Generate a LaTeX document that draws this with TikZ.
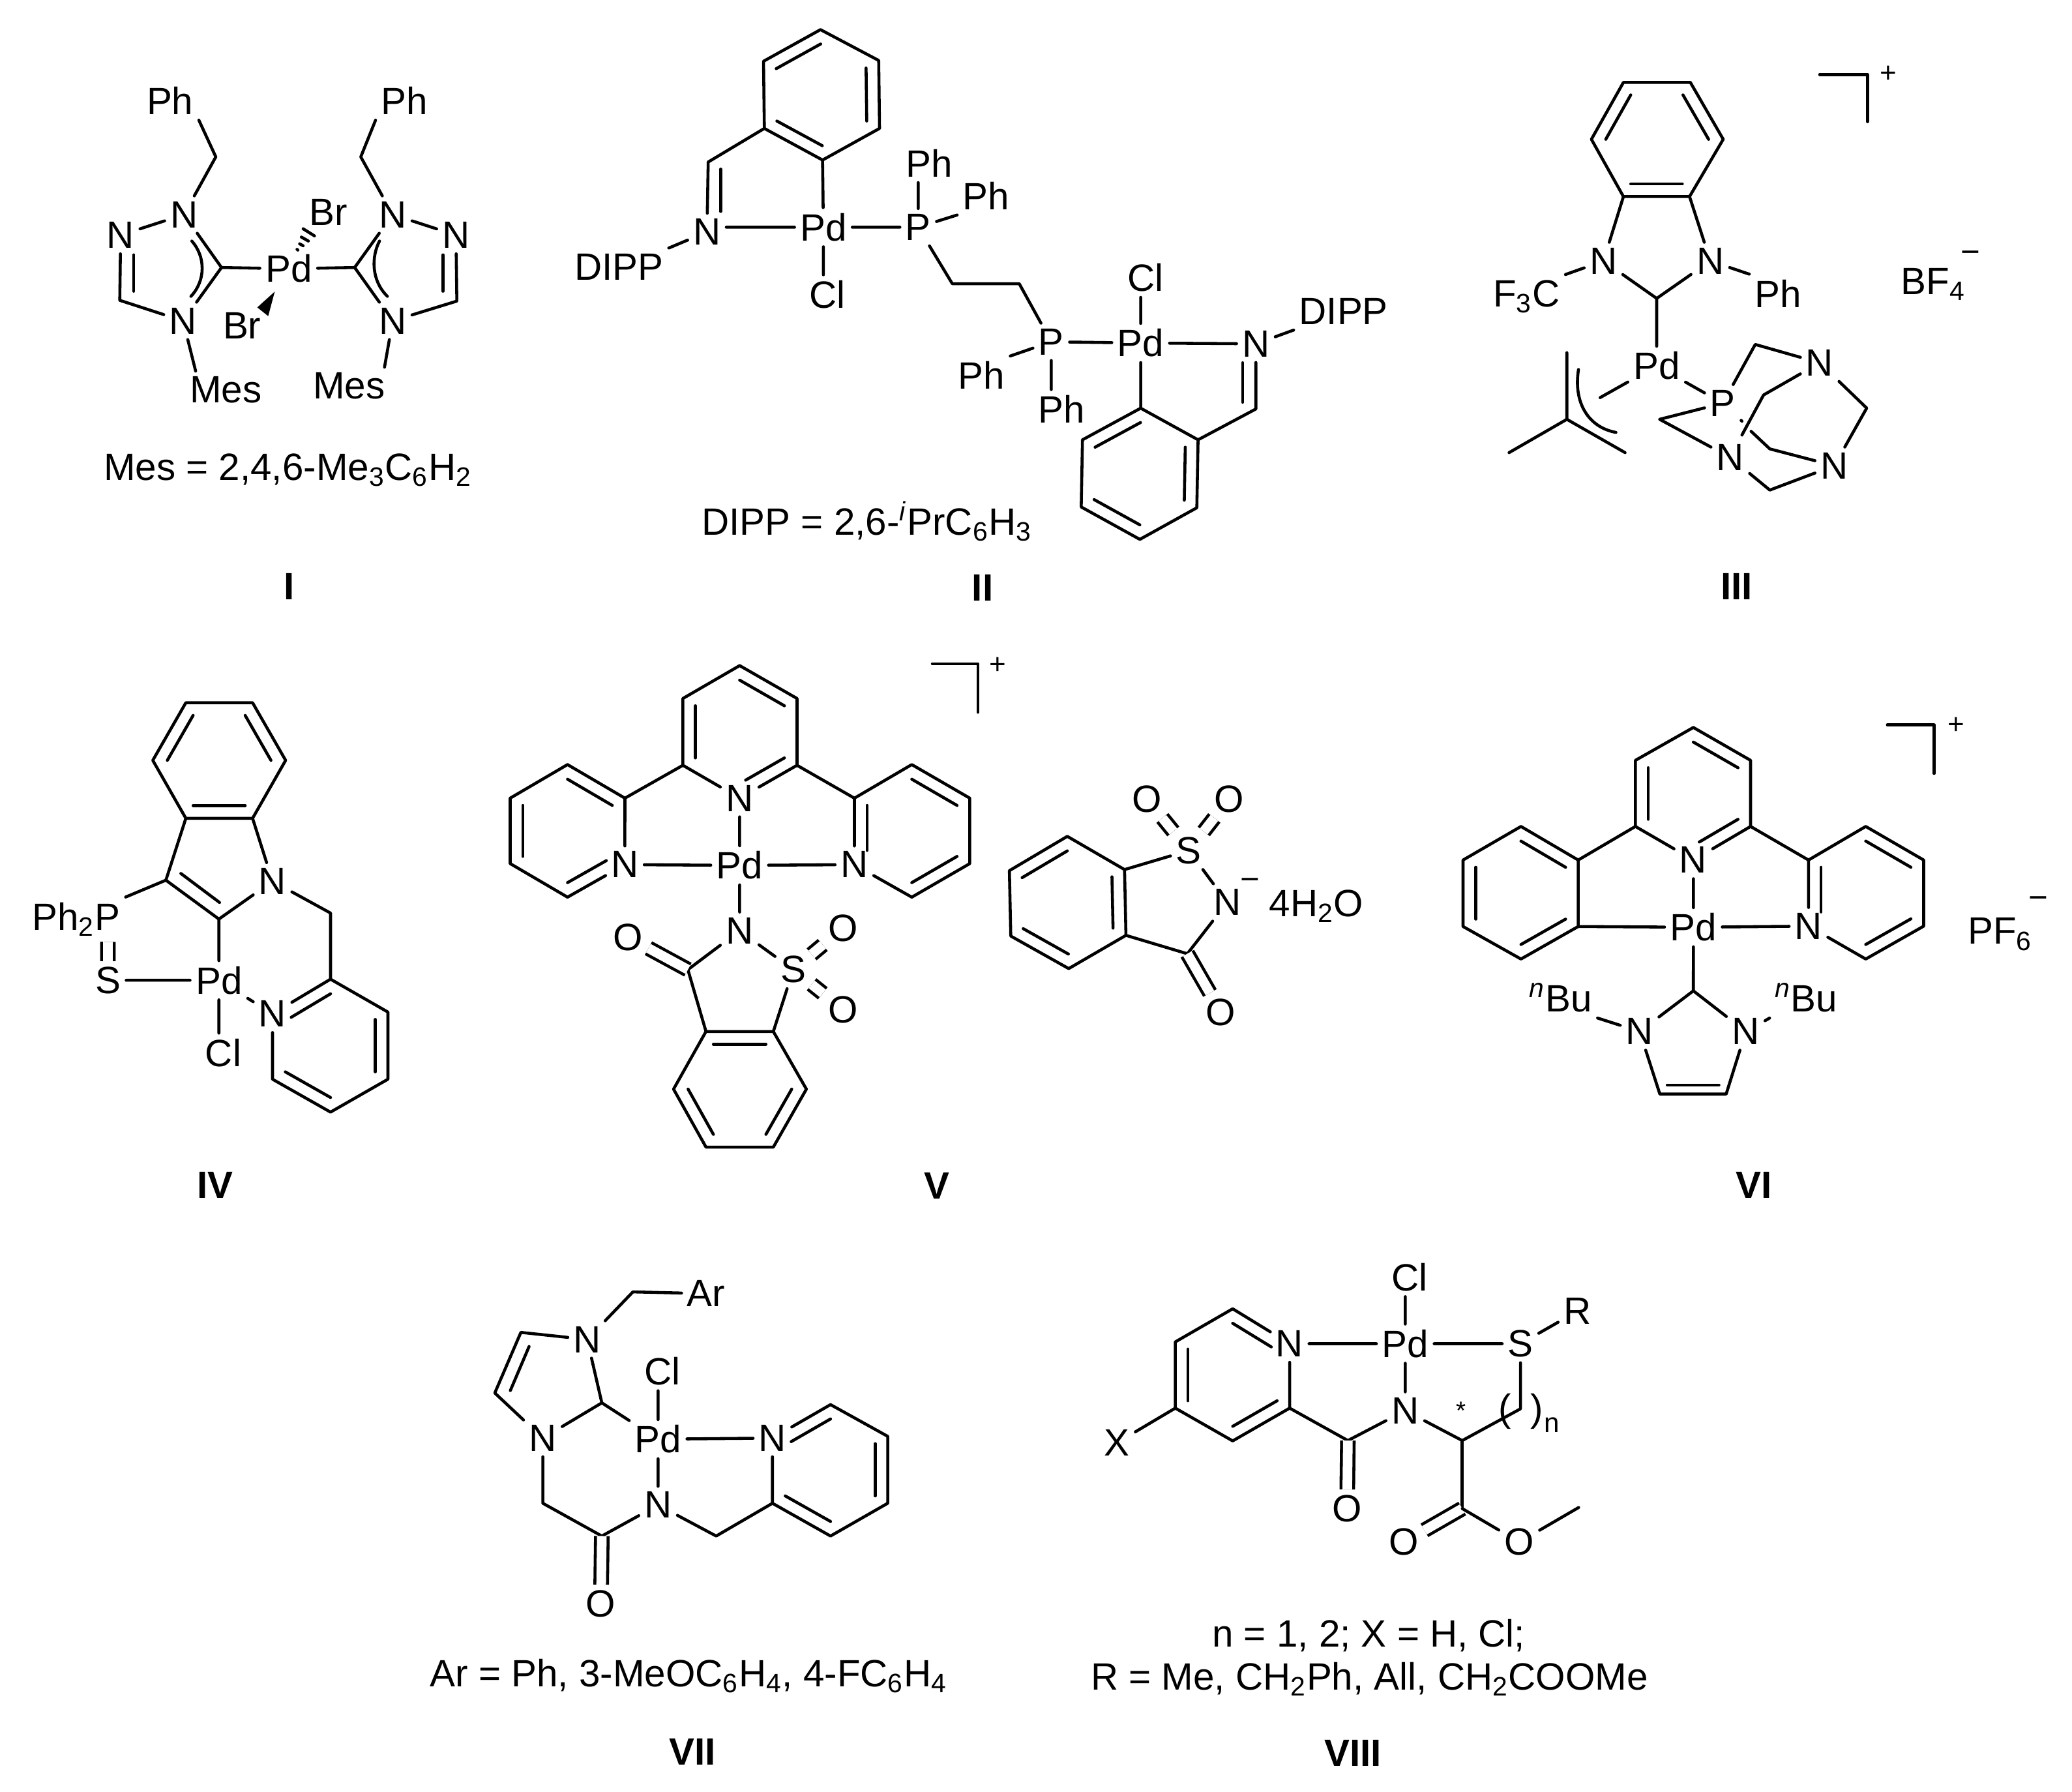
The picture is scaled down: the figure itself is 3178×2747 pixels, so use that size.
\documentclass[tikz,border=0pt]{standalone}
\usepackage{fontspec}
\usepackage{xcolor}
\usetikzlibrary{calc}
\setmainfont{Liberation Sans}

\newcommand{\labelsize}{\fontsize{16.6}{20}\selectfont}
\newcommand{\inbond}[4][]{\draw[#1] ($(#2)!.22!(#4)$) -- ($(#3)!.22!(#4)$);}

\tikzset{
  atom/.style={inner sep=1.8pt, font=\labelsize},
  note/.style={inner sep=0pt, font=\labelsize},
  plus/.style={inner sep=0pt, font=\fontsize{12.5}{14}\selectfont},
  minus/.style={inner sep=0pt, font=\fontsize{14.5}{16}\selectfont},
  molname/.style={inner sep=0pt, font=\labelsize\bfseries},
  dbl/.style={double, double distance=4.2pt, line cap=butt}
}

\begin{document}
\begin{tikzpicture}[x=.1mm, y=-.1mm, line width=1.3pt, line cap=round, line join=round]
  \useasboundingbox (0,0) rectangle (3178,2747);

  % I
  \begin{scope}[shift={(100,0)}, xscale=.6696, yscale=.6059]
    \node[atom] (aPd) at (512,680) {Pd};
    \node[atom] (aPh1) at (240,255) {Ph};
    \node[atom] (aPh2) at (777,255) {Ph};
    \node[atom] (aN1) at (272,543) {N};
    \node[atom] (aN2) at (127,595) {N};
    \node[atom] (aN3) at (270,812) {N};
    \node[atom] (aN4) at (750,543) {N};
    \node[atom] (aN5) at (895,595) {N};
    \node[atom] (aN6) at (750,812) {N};
    \node[atom] (aMes1) at (368,987) {Mes};
    \node[atom] (aMes2) at (650,977) {Mes};
    \node[atom] (aBr1) at (603,537) {Br};
    \node[atom] (aBr2) at (405,825) {Br};
    \coordinate (aC1) at (345,397);
    \coordinate (aC2) at (125,760);
    \coordinate (aC3) at (358,677);
    \coordinate (aC4) at (677,397);
    \coordinate (aC5) at (897,762);
    \coordinate (aC6) at (663,677);
    \coordinate (aD1) at (157,645);
    \coordinate (aD2) at (157,737);
    \coordinate (aD3) at (865,645);
    \coordinate (aD4) at (865,737);

    \draw (aPh1.south east) -- (aC1) -- (aN1);
    \draw (aN1) -- (aN2);
    \draw (aN2) -- (aC2) -- (aN3);
    \draw (aD1) -- (aD2);
    \draw (aN3) -- (aC3) -- (aN1);
    \draw (aC3) -- (aPd);
    \draw (aN3) -- (aMes1.148);
    \draw (290,610) .. controls (322,650) and (322,710) .. (288,750);
    \draw (aPh2.south west) -- (aC4) -- (aN4);
    \draw (aN4) -- (aN5);
    \draw (aN5) -- (aC5) -- (aN6);
    \draw (aD3) -- (aD4);
    \draw (aN6) -- (aC6) -- (aN4);
    \draw (aC6) -- (aPd);
    \draw (aN6) -- (aMes2.28);
    \draw (720,610) .. controls (701,650) and (701,710) .. (738,750);
    \fill (480,738) -- (440,778) -- (465,800) -- cycle;
    \draw (533,633) -- (531,631);
    \draw (545,622) -- (537,617);
    \draw (557,610) -- (541,600);
    \draw (571,597) -- (545,579);

    \node[note] (aNote) at (510,1190) {Mes = 2,4,6-Me\textsubscript{3}C\textsubscript{6}H\textsubscript{2}};
    \node[molname] (aName) at (513,1485) {I};
  \end{scope}

  % II
  \begin{scope}[shift={(1150,0)}, xscale=.6378, yscale=.6059]
    \node[atom] (bPd1) at (177,575) {Pd};
    \node[atom] (bPd2) at (940,868) {Pd};
    \node[atom] (bP1) at (405,575) {P};
    \node[atom] (bP2) at (725,865) {P};
    \node[atom] (bN1) at (-103,587) {N};
    \node[atom] (bN2) at (1217,870) {N};
    \node[atom] (bDipp1) at (-315,675) {DIPP};
    \node[atom] (bDipp2) at (1428,788) {DIPP};
    \node[atom] (bCl1) at (187,745) {Cl};
    \node[atom] (bCl2) at (952,703) {Cl};
    \node[atom] (bPh1) at (432,413) {Ph};
    \node[atom] (bPh2) at (568,495) {Ph};
    \node[atom] (bPh3) at (557,950) {Ph};
    \node[atom] (bPh4) at (750,1035) {Ph};
    \coordinate (bR1) at (170,75);
    \coordinate (bR2) at (310,153);
    \coordinate (bR3) at (312,325);
    \coordinate (bR4) at (175,405);
    \coordinate (bR5) at (35,325);
    \coordinate (bR6) at (33,155);
    \coordinate (bRc) at (172,240);
    \coordinate (bS1) at (940,1033);
    \coordinate (bS2) at (1078,1113);
    \coordinate (bS3) at (1075,1285);
    \coordinate (bS4) at (938,1365);
    \coordinate (bS5) at (797,1283);
    \coordinate (bS6) at (800,1113);
    \coordinate (bSc) at (938,1198);
    \coordinate (bC1) at (-100,410);
    \coordinate (bC2) at (1217,1035);
    \coordinate (bC3) at (487,718);
    \coordinate (bC4) at (648,718);
    \coordinate (bD1) at (-70,428);
    \coordinate (bD2) at (-70,535);
    \coordinate (bD3) at (1185,1018);
    \coordinate (bD4) at (1185,918);

    \draw (bR1) -- (bR2) -- (bR3) -- (bR4) -- (bR5) -- (bR6) -- cycle;
    \inbond{bR6}{bR1}{bRc}
    \inbond{bR2}{bR3}{bRc}
    \inbond{bR4}{bR5}{bRc}
    \draw (bR5) -- (bC1) -- (bN1);
    \draw (bD1) -- (bD2);
    \draw (bN1) -- (bDipp1.north east);
    \draw (bPd1) -- (bPd1 -| bN1.east);
    \draw (bPd1) -- (bR4);
    \draw (bPd1) -- (bPd1 |- bCl1.north);
    \draw (bPd1) -- (bP1);
    \draw (bP1) -- (bP1 |- bPh1.south);
    \draw (bP1) -- (bPh2.south west);
    \draw (bP1) -- (bC3) -- (bC4) -- (bP2);
    \draw (bP2) -- (bPd2);
    \draw (bP2) -- (bPh3.north east);
    \draw (bP2) -- (bPh4.north -| bP2);
    \draw (bPd2) -- (bPd2 |- bCl2.south);
    \draw (bPd2) -- (bN2);
    \draw (bN2) -- (bDipp2.south west);
    \draw (bPd2) -- (bS1);
    \draw (bS1) -- (bS2) -- (bS3) -- (bS4) -- (bS5) -- (bS6) -- cycle;
    \inbond{bS6}{bS1}{bSc}
    \inbond{bS2}{bS3}{bSc}
    \inbond{bS4}{bS5}{bSc}
    \draw (bS2) -- (bC2) -- (bN2);
    \draw (bD3) -- (bD4);

    \node[note] (bNote) at (282,1320) {DIPP = 2,6-\textsuperscript{\textit{i}}PrC\textsubscript{6}H\textsubscript{3}};
    \node[molname] (bName) at (560,1487) {II};
  \end{scope}

  % III
  \begin{scope}[shift={(2150,50)}, xscale=.6378, yscale=.574]
    \node[atom] (cPd) at (613,890) {Pd};
    \node[atom] (cN1) at (485,610) {N};
    \node[atom] (cN2) at (742,610) {N};
    \node[atom] (cP) at (772,990) {P};
    \node[atom] (cN3) at (1005,882) {N};
    \node[atom] (cN4) at (790,1135) {N};
    \node[atom] (cN5) at (1040,1157) {N};
    \node[atom] (cCf) at (300,705) {F\textsubscript{3}C};
    \node[atom] (cPh) at (905,697) {Ph};
    \node[atom] (cBf) at (1278,672) {BF\textsubscript{4}};
    \node[minus] (cMinus) at (1368,600) {−};
    \node[plus] (cPlus) at (1170,112) {+};
    \coordinate (cR1) at (533,133);
    \coordinate (cR2) at (694,133);
    \coordinate (cR3) at (773,285);
    \coordinate (cR4) at (692,438);
    \coordinate (cR5) at (533,438);
    \coordinate (cR6) at (456,285);
    \coordinate (cRc) at (613,285);
    \coordinate (cC1) at (613,710);
    \coordinate (cA1) at (397,855);
    \coordinate (cA2) at (397,1033);
    \coordinate (cA3) at (258,1122);
    \coordinate (cA4) at (537,1122);
    \coordinate (cA5) at (477,975);
    \coordinate (cT1) at (850,833);
    \coordinate (cT2) at (870,968);
    \coordinate (cT3) at (818,1075);
    \coordinate (cT4) at (1118,1003);
    \coordinate (cT5) at (885,1112);
    \coordinate (cT6) at (885,1222);
    \coordinate (cT7) at (620,1033);
    \coordinate (cT8) at (840,1065);
    \coordinate (cT9) at (818,1038);
    \coordinate (cB1) at (1005,112);
    \coordinate (cB2) at (1120,112);
    \coordinate (cB3) at (1120,238);

    \draw (cR1) -- (cR2) -- (cR3) -- (cR4) -- (cR5) -- (cR6) -- cycle;
    \inbond{cR6}{cR1}{cRc}
    \inbond{cR2}{cR3}{cRc}
    \inbond{cR4}{cR5}{cRc}
    \draw (cR5) -- (cN1);
    \draw (cR4) -- (cN2);
    \draw (cN1) -- (cC1) -- (cN2);
    \draw (cC1) -- (cPd);
    \draw (cN1) -- (cCf.north east);
    \draw (cN2) -- (cPh.north west);
    \draw (cPd) -- (cA5);
    \draw (cPd) -- (cP);
    \draw (cA1) -- (cA2) -- (cA3);
    \draw (cA2) -- (cA4);
    \draw (425,900) .. controls (412,990) and (450,1055) .. (515,1068);
    \draw (cP) -- (cT1) -- (cN3);
    \draw (cN3) -- (cT2) -- (cT3);
    \draw (cN3) -- (cT4) -- (cN5);
    \draw (cN5) -- (cT5) -- (cT8);
    \draw (cT9) -- (cP);
    \draw (cN5) -- (cT6) -- (cN4);
    \draw (cN4) -- (cT7) -- (cP);
    \draw (cB1) -- (cB2) -- (cB3);

    \node[molname] (cName) at (805,1480) {III};
  \end{scope}

  % IV and V
  \begin{scope}[shift={(0,980)}, xscale=.9566, yscale=.5421]
    \node[atom] (dPd) at (351,965) {Pd};
    \node[atom] (dN1) at (437,685) {N};
    \node[atom] (dN2) at (437,1060) {N};
    \node[atom] (dS) at (173,965) {S};
    \node[atom] (dCl) at (358,1170) {Cl};
    \node[atom] (dPhp) at (122,793) {Ph\textsubscript{2}P};
    \coordinate (dR1) at (298,180);
    \coordinate (dR2) at (405,180);
    \coordinate (dR3) at (458,343);
    \coordinate (dR4) at (405,507);
    \coordinate (dR5) at (298,507);
    \coordinate (dR6) at (245,343);
    \coordinate (dRc) at (351,343);
    \coordinate (dC1) at (266,682);
    \coordinate (dC2) at (351,792);
    \coordinate (dC3) at (530,775);
    \coordinate (dQ1) at (530,962);
    \coordinate (dQ2) at (622,1055);
    \coordinate (dQ3) at (622,1245);
    \coordinate (dQ4) at (530,1338);
    \coordinate (dQ5) at (437,1245);
    \coordinate (dQc) at (530,1150);
    \coordinate (dI1) at (290,663);
    \coordinate (dI2) at (352,745);

    \draw (dR1) -- (dR2) -- (dR3) -- (dR4) -- (dR5) -- (dR6) -- cycle;
    \inbond{dR6}{dR1}{dRc}
    \inbond{dR2}{dR3}{dRc}
    \inbond{dR4}{dR5}{dRc}
    \draw (dR5) -- (dC1) -- (dC2) -- (dN1);
    \draw (dI1) -- (dI2);
    \draw (dR4) -- (dN1);
    \draw (dN1) -- (dC3) -- (dQ1);
    \draw (dC1) -- (dPhp.north east);
    \draw[dbl] (dS) -- (dS |- dPhp.south);
    \draw (dS) -- (dPd);
    \draw (dC2) -- (dPd);
    \draw (dPd) -- (dPd |- dCl.north);
    \draw (dPd) -- (dN2);
    \draw (dN2) -- (dQ1) -- (dQ2) -- (dQ3) -- (dQ4) -- (dQ5) -- (dN2);
    \inbond[shorten >=3pt]{dQ1}{dN2}{dQc}
    \inbond{dQ2}{dQ3}{dQc}
    \inbond{dQ4}{dQ5}{dQc}

    \node[molname] (dName) at (345,1545) {IV};

    % V
    \node[atom] (ePd) at (1186,640) {Pd};
    \node[atom] (eN1) at (1186,450) {N};
    \node[atom] (eN2) at (1002,638) {N};
    \node[atom] (eN3) at (1370,638) {N};
    \node[atom] (eN4) at (1186,825) {N};
    \node[atom] (eS) at (1272,935) {S};
    \node[atom] (eO1) at (1007,843) {O};
    \node[atom] (eO2) at (1352,817) {O};
    \node[atom] (eO3) at (1352,1048) {O};
    \node[plus] (ePlus) at (1600,75) {+};
    \coordinate (eR1) at (1186,75);
    \coordinate (eR2) at (1278,168);
    \coordinate (eR3) at (1278,357);
    \coordinate (eR5) at (1095,357);
    \coordinate (eR6) at (1095,168);
    \coordinate (eRc) at (1186,262);
    \coordinate (eL1) at (910,355);
    \coordinate (eL2) at (1002,450);
    \coordinate (eL4) at (910,730);
    \coordinate (eL5) at (818,635);
    \coordinate (eL6) at (818,450);
    \coordinate (eLc) at (910,543);
    \coordinate (eT1) at (1370,450);
    \coordinate (eT2) at (1462,355);
    \coordinate (eT3) at (1555,450);
    \coordinate (eT4) at (1555,635);
    \coordinate (eT5) at (1462,730);
    \coordinate (eTc) at (1462,543);
    \coordinate (eC1) at (1103,935);
    \coordinate (eU1) at (1132,1110);
    \coordinate (eU2) at (1240,1110);
    \coordinate (eU3) at (1293,1273);
    \coordinate (eU4) at (1240,1437);
    \coordinate (eU5) at (1132,1437);
    \coordinate (eU6) at (1080,1273);
    \coordinate (eUc) at (1186,1273);
    \coordinate (eB1) at (1495,70);
    \coordinate (eB2) at (1568,70);
    \coordinate (eB3) at (1568,207);

    \draw (eR1) -- (eR2) -- (eR3) -- (eN1) -- (eR5) -- (eR6) -- (eR1);
    \inbond{eR1}{eR2}{eRc}
    \inbond{eR5}{eR6}{eRc}
    \inbond[shorten <=3pt]{eN1}{eR3}{eRc}
    \draw (eL1) -- (eL2) -- (eN2) -- (eL4) -- (eL5) -- (eL6) -- (eL1);
    \inbond{eL1}{eL2}{eLc}
    \inbond{eL5}{eL6}{eLc}
    \inbond[shorten >=3pt]{eL4}{eN2}{eLc}
    \draw (eT1) -- (eT2) -- (eT3) -- (eT4) -- (eT5) -- (eN3) -- (eT1);
    \inbond{eT2}{eT3}{eTc}
    \inbond{eT4}{eT5}{eTc}
    \inbond[shorten >=3pt]{eT1}{eN3}{eTc}
    \draw (eR5) -- (eL2);
    \draw (eR3) -- (eT1);
    \draw (eN2) -- (ePd);
    \draw (ePd) -- (eN3);
    \draw (eN1) -- (ePd);
    \draw (ePd) -- (eN4);
    \draw (eN4) -- (eC1) -- (eU1);
    \draw (eN4) -- (eS);
    \draw (eS) -- (eU2);
    \draw[dbl] (eC1) -- (eO1);
    \draw[dbl] (eS) -- (eO2);
    \draw[dbl] (eS) -- (eO3);
    \draw (eU1) -- (eU2) -- (eU3) -- (eU4) -- (eU5) -- (eU6) -- cycle;
    \inbond{eU1}{eU2}{eUc}
    \inbond{eU3}{eU4}{eUc}
    \inbond{eU5}{eU6}{eUc}
    \draw (eB1) -- (eB2) -- (eB3);

    \node[molname] (eName) at (1502,1546) {V};
  \end{scope}

  % counter ion of V, and VI
  \begin{scope}[shift={(1500,980)}, xscale=1.0702, yscale=.5421]
    \node[atom] (fS) at (302,598) {S};
    \node[atom] (fN) at (357,745) {N};
    \node[atom] (fO1) at (242,452) {O};
    \node[atom] (fO2) at (360,452) {O};
    \node[atom] (fO3) at (348,1055) {O};
    \node[minus] (fMinus) at (390,693) {−};
    \node[note] (fWater) at (485,755) {4H\textsubscript{2}O};
    \coordinate (fR1) at (128,558);
    \coordinate (fR2) at (210,652);
    \coordinate (fR3) at (212,838);
    \coordinate (fR4) at (130,932);
    \coordinate (fR5) at (47,840);
    \coordinate (fR6) at (45,655);
    \coordinate (fRc) at (128,745);
    \coordinate (fC) at (300,890);

    \draw (fR1) -- (fR2) -- (fR3) -- (fR4) -- (fR5) -- (fR6) -- cycle;
    \inbond{fR6}{fR1}{fRc}
    \inbond{fR2}{fR3}{fRc}
    \inbond{fR4}{fR5}{fRc}
    \draw (fR2) -- (fS);
    \draw (fS) -- (fN);
    \draw (fN) -- (fC) -- (fR3);
    \draw[dbl] (fC) -- (fO3);
    \draw[dbl] (fS) -- (fO1);
    \draw[dbl] (fS) -- (fO2);

    % VI
    \node[atom] (gPd) at (1025,815) {Pd};
    \node[atom] (gN1) at (1025,625) {N};
    \node[atom] (gN2) at (1190,812) {N};
    \node[atom] (gN3) at (948,1110) {N};
    \node[atom] (gN4) at (1100,1110) {N};
    \node[atom] (gBu1) at (835,1015) {\textsuperscript{\textit{n}}Bu};
    \node[atom] (gBu2) at (1187,1015) {\textsuperscript{\textit{n}}Bu};
    \node[atom] (gPf) at (1465,835) {PF\textsubscript{6}};
    \node[minus] (gMinus) at (1520,745) {−};
    \node[plus] (gPlus) at (1402,245) {+};
    \coordinate (gR1) at (1025,250);
    \coordinate (gR2) at (1107,343);
    \coordinate (gR3) at (1107,530);
    \coordinate (gR5) at (942,530);
    \coordinate (gR6) at (942,343);
    \coordinate (gRc) at (1025,438);
    \coordinate (gL1) at (778,530);
    \coordinate (gL2) at (860,625);
    \coordinate (gL3) at (860,813);
    \coordinate (gL4) at (778,905);
    \coordinate (gL5) at (695,813);
    \coordinate (gL6) at (695,625);
    \coordinate (gLc) at (778,718);
    \coordinate (gT1) at (1190,625);
    \coordinate (gT2) at (1272,530);
    \coordinate (gT3) at (1355,625);
    \coordinate (gT4) at (1355,812);
    \coordinate (gT5) at (1272,905);
    \coordinate (gTc) at (1272,718);
    \coordinate (gC1) at (1025,995);
    \coordinate (gC2) at (977,1287);
    \coordinate (gC3) at (1072,1287);
    \coordinate (gC4) at (1025,1170);
    \coordinate (gB1) at (1303,243);
    \coordinate (gB2) at (1370,243);
    \coordinate (gB3) at (1370,380);

    \draw (gR1) -- (gR2) -- (gR3) -- (gN1) -- (gR5) -- (gR6) -- (gR1);
    \inbond{gR1}{gR2}{gRc}
    \inbond{gR5}{gR6}{gRc}
    \inbond[shorten <=3pt]{gN1}{gR3}{gRc}
    \draw (gL1) -- (gL2) -- (gL3) -- (gL4) -- (gL5) -- (gL6) -- cycle;
    \inbond{gL1}{gL2}{gLc}
    \inbond{gL3}{gL4}{gLc}
    \inbond{gL5}{gL6}{gLc}
    \draw (gT1) -- (gT2) -- (gT3) -- (gT4) -- (gT5) -- (gN2) -- (gT1);
    \inbond{gT2}{gT3}{gTc}
    \inbond{gT4}{gT5}{gTc}
    \inbond[shorten >=3pt]{gT1}{gN2}{gTc}
    \draw (gR5) -- (gL2);
    \draw (gR3) -- (gT1);
    \draw (gL3) -- (gPd);
    \draw (gPd) -- (gN2);
    \draw (gN1) -- (gPd);
    \draw (gPd) -- (gC1);
    \draw (gC1) -- (gN3) -- (gC2) -- (gC3) -- (gN4) -- (gC1);
    \inbond{gC2}{gC3}{gC4}
    \draw (gN3) -- (gBu1.south east);
    \draw (gN4) -- (gBu2.south west);
    \draw (gB1) -- (gB2) -- (gB3);

    \node[molname] (gName) at (1112,1545) {VI};
  \end{scope}

  % VII
  \begin{scope}[shift={(620,1900)}, xscale=.7015, yscale=.5402]
    \node[atom] (hPd) at (555,568) {Pd};
    \node[atom] (hAr) at (660,155) {Ar};
    \node[atom] (hN1) at (400,285) {N};
    \node[atom] (hN2) at (303,565) {N};
    \node[atom] (hN3) at (805,565) {N};
    \node[atom] (hN4) at (555,755) {N};
    \node[atom] (hCl) at (565,375) {Cl};
    \node[atom] (hO) at (430,1035) {O};
    \coordinate (hC1) at (500,150);
    \coordinate (hC2) at (255,265);
    \coordinate (hC3) at (198,437);
    \coordinate (hC4) at (432,465);
    \coordinate (hC5) at (303,750);
    \coordinate (hC6) at (432,843);
    \coordinate (hC7) at (682,843);
    \coordinate (hD1) at (273,305);
    \coordinate (hD2) at (232,430);
    \coordinate (hR1) at (932,470);
    \coordinate (hR2) at (1057,560);
    \coordinate (hR3) at (1057,750);
    \coordinate (hR4) at (932,843);
    \coordinate (hR5) at (805,750);
    \coordinate (hRc) at (932,655);

    \draw (hAr) -- (hC1) -- (hN1);
    \draw (hN1) -- (hC2) -- (hC3) -- (hN2);
    \draw (hD1) -- (hD2);
    \draw (hN2) -- (hC4) -- (hN1);
    \draw (hC4) -- (hPd);
    \draw (hPd) -- (hPd |- hCl.south);
    \draw (hPd) -- (hN3);
    \draw (hPd) -- (hN4);
    \draw (hN2) -- (hC5) -- (hC6) -- (hN4);
    \draw[dbl] (hC6) -- (hO);
    \draw (hN4) -- (hC7) -- (hR5);
    \draw (hN3) -- (hR1) -- (hR2) -- (hR3) -- (hR4) -- (hR5) -- (hN3);
    \inbond[shorten <=3pt]{hN3}{hR1}{hRc}
    \inbond{hR2}{hR3}{hRc}
    \inbond{hR4}{hR5}{hRc}

    \node[note] (hNote) at (622,1240) {Ar = Ph, 3-MeOC\textsubscript{6}H\textsubscript{4}, 4-FC\textsubscript{6}H\textsubscript{4}};
    \node[molname] (hName) at (630,1455) {VII};
  \end{scope}

  % VIII
  \begin{scope}[shift={(1640,1900)}, xscale=.6378, yscale=.5402]
    \node[atom] (kPd) at (808,297) {Pd};
    \node[atom] (kCl) at (818,108) {Cl};
    \node[atom] (kN1) at (530,297) {N};
    \node[atom] (kN2) at (808,487) {N};
    \node[atom] (kS) at (1085,297) {S};
    \node[atom] (kR) at (1222,205) {R};
    \node[atom] (kX) at (115,578) {X};
    \node[atom] (kO1) at (668,765) {O};
    \node[atom] (kO2) at (805,860) {O};
    \node[atom] (kO3) at (1082,860) {O};
    \node[note] (kStar) at (943,487) {\fontsize{11}{13}\selectfont *};
    \node[note] (kOpen) at (1048,490) {(};
    \node[note] (kClose) at (1125,490) {)};
    \node[note] (kIdx) at (1160,528) {\fontsize{12}{14}\selectfont n};
    \coordinate (kR1) at (393,198);
    \coordinate (kR2) at (255,292);
    \coordinate (kR3) at (255,480);
    \coordinate (kR4) at (393,573);
    \coordinate (kR5) at (530,480);
    \coordinate (kRc) at (393,385);
    \coordinate (kC1) at (670,572);
    \coordinate (kC2) at (945,572);
    \coordinate (kC3) at (1085,482);
    \coordinate (kC4) at (945,765);
    \coordinate (kC5) at (1225,762);

    \draw (kN1) -- (kR1) -- (kR2) -- (kR3) -- (kR4) -- (kR5) -- (kN1);
    \inbond[shorten <=3pt]{kN1}{kR1}{kRc}
    \inbond{kR2}{kR3}{kRc}
    \inbond{kR4}{kR5}{kRc}
    \draw (kR3) -- (kX);
    \draw (kN1) -- (kPd);
    \draw (kPd) -- (kS);
    \draw (kPd) -- (kPd |- kCl.south);
    \draw (kPd) -- (kN2);
    \draw (kS) -- (kR);
    \draw (kS) -- (kC3) -- (kC2) -- (kN2);
    \draw (kN2) -- (kC1) -- (kR5);
    \draw[dbl] (kC1) -- (kO1);
    \draw (kC2) -- (kC4);
    \draw[dbl] (kC4) -- (kO2);
    \draw (kC4) -- (kO3);
    \draw (kO3) -- (kC5);

    \node[note] (kNote1) at (720,1125) {n = 1, 2; X = H, Cl;};
    \node[note] (kNote2) at (722,1250) {R = Me, CH\textsubscript{2}Ph, All, CH\textsubscript{2}COOMe};
    \node[molname] (kName) at (682,1460) {VIII};
  \end{scope}
\end{tikzpicture}
\end{document}
